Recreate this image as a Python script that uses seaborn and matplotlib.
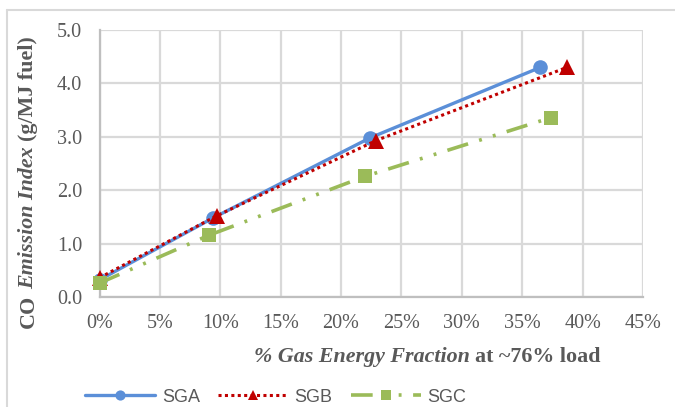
import matplotlib
matplotlib.use("Agg")
import matplotlib.pyplot as plt
from matplotlib.lines import Line2D
from matplotlib.ticker import MultipleLocator, PercentFormatter, FormatStrFormatter
import seaborn as sns

# Gas energy fraction (%) and CO emission index (g/MJ fuel) at ~76% load
gef_sga = [0.0, 9.4, 22.4, 36.5]
ei_sga = [0.32, 1.48, 2.98, 4.30]

gef_sgb = [0.0, 9.7, 22.9, 38.7]
ei_sgb = [0.36, 1.52, 2.93, 4.30]

gef_sgc = [0.0, 9.1, 22.0, 37.4]
ei_sgc = [0.26, 1.16, 2.26, 3.36]

series_names = ["SGA", "SGB", "SGC"]

# axis titles split into (text, italic?) runs
ylabel_runs = [("CO", False), ("Emission Index", True), ("(g/MJ fuel)", False)]
xlabel_runs = [("% Gas Energy Fraction", True), ("at ~76% load", False)]

sns.set_theme(style="white")
plt.rcParams["font.family"] = ["Liberation Serif", "DejaVu Serif"]

TEXT = "#595959"
GRID = "#D9D9D9"
AXIS = "#BFBFBF"
W, H = 675, 407

fig = plt.figure(figsize=(W / 100, H / 100), dpi=100)
ax = fig.add_axes([99.5 / W, 110 / H, 543.5 / W, 267 / H])

common = dict(ax=ax, sort=False, markeredgewidth=0, clip_on=False)
sns.lineplot(x=gef_sga, y=ei_sga, color="#5B8FD8", marker="o", markersize=10.5,
             linewidth=2.4, label=series_names[0], zorder=3, **common)
sns.lineplot(x=gef_sgb, y=ei_sgb, color="#C00000", marker="^", markersize=11,
             linewidth=2.2, linestyle=(0, (1, 1.1)), label=series_names[1],
             zorder=4, **common)
sns.lineplot(x=gef_sgc, y=ei_sgc, color="#9BBB59", marker="s", markersize=10,
             linewidth=2.6, linestyle=(0, (6, 3.2, 0.8, 3.2, 0.8, 3.2)),
             label=series_names[2], zorder=5, **common)

ax.set_xlim(0, 45)
ax.set_ylim(0, 5.0)
ax.xaxis.set_major_locator(MultipleLocator(5))
ax.xaxis.set_minor_locator(MultipleLocator(1))
ax.yaxis.set_major_locator(MultipleLocator(1))
ax.yaxis.set_minor_locator(MultipleLocator(0.2))
ax.xaxis.set_major_formatter(PercentFormatter(xmax=100, decimals=0))
ax.yaxis.set_major_formatter(FormatStrFormatter("%.1f"))

ax.grid(True, which="major", color=GRID, linewidth=1.6, zorder=0)
ax.set_axisbelow(True)
for side in ["top", "right"]:
    ax.spines[side].set_visible(False)
for side in ["left", "bottom"]:
    ax.spines[side].set_color(AXIS)
    ax.spines[side].set_linewidth(1.6)

ax.tick_params(which="both", direction="inout", length=7, width=1.2, color=AXIS,
               labelsize=14.5, labelcolor=TEXT, pad=9)

handles, labels = ax.get_legend_handles_labels()
ax.legend(handles, labels, loc="center left", bbox_to_anchor=(85 / W, 10 / H),
          bbox_transform=fig.transFigure, ncol=3, frameon=False,
          prop={"family": "Liberation Sans", "size": 13}, labelcolor=TEXT,
          handlelength=3.9, handletextpad=0.35, columnspacing=1.0,
          markerscale=0.7, borderpad=0, borderaxespad=0)


def run_text(runs, x0, y0, vertical, size=15.8):
    """Write a bold title made of upright/italic runs, starting at pixel (x0, y0 from top)."""
    renderer = fig.canvas.get_renderer()
    probe_a = fig.text(0, 0, "x x", fontsize=size, fontweight="bold")
    probe_b = fig.text(0, 0, "xx", fontsize=size, fontweight="bold")
    gap = (probe_a.get_window_extent(renderer).width
           - probe_b.get_window_extent(renderer).width)
    probe_a.remove()
    probe_b.remove()
    pos = 0.0
    for txt, italic in runs:
        if vertical:
            xy = (x0 / W, (H - y0 + pos) / H)
        else:
            xy = ((x0 + pos) / W, (H - y0) / H)
        t = fig.text(*xy, txt, fontsize=size, fontweight="bold",
                     fontstyle="italic" if italic else "normal", color=TEXT,
                     rotation=90 if vertical else 0, rotation_mode="anchor",
                     ha="left", va="baseline")
        ext = t.get_window_extent(renderer)
        pos += (ext.height if vertical else ext.width) + gap


run_text(ylabel_runs, 33.5, 328, vertical=True)
run_text(xlabel_runs, 254, 362, vertical=False)

# chart-area frame
fig.add_artist(Line2D([7 / W, 7 / W], [0, 397 / H], transform=fig.transFigure,
                      color=GRID, linewidth=1.5))
fig.add_artist(Line2D([7 / W, 1], [397 / H, 397 / H], transform=fig.transFigure,
                      color=GRID, linewidth=1.5))

fig.savefig("out.png", dpi=100)
